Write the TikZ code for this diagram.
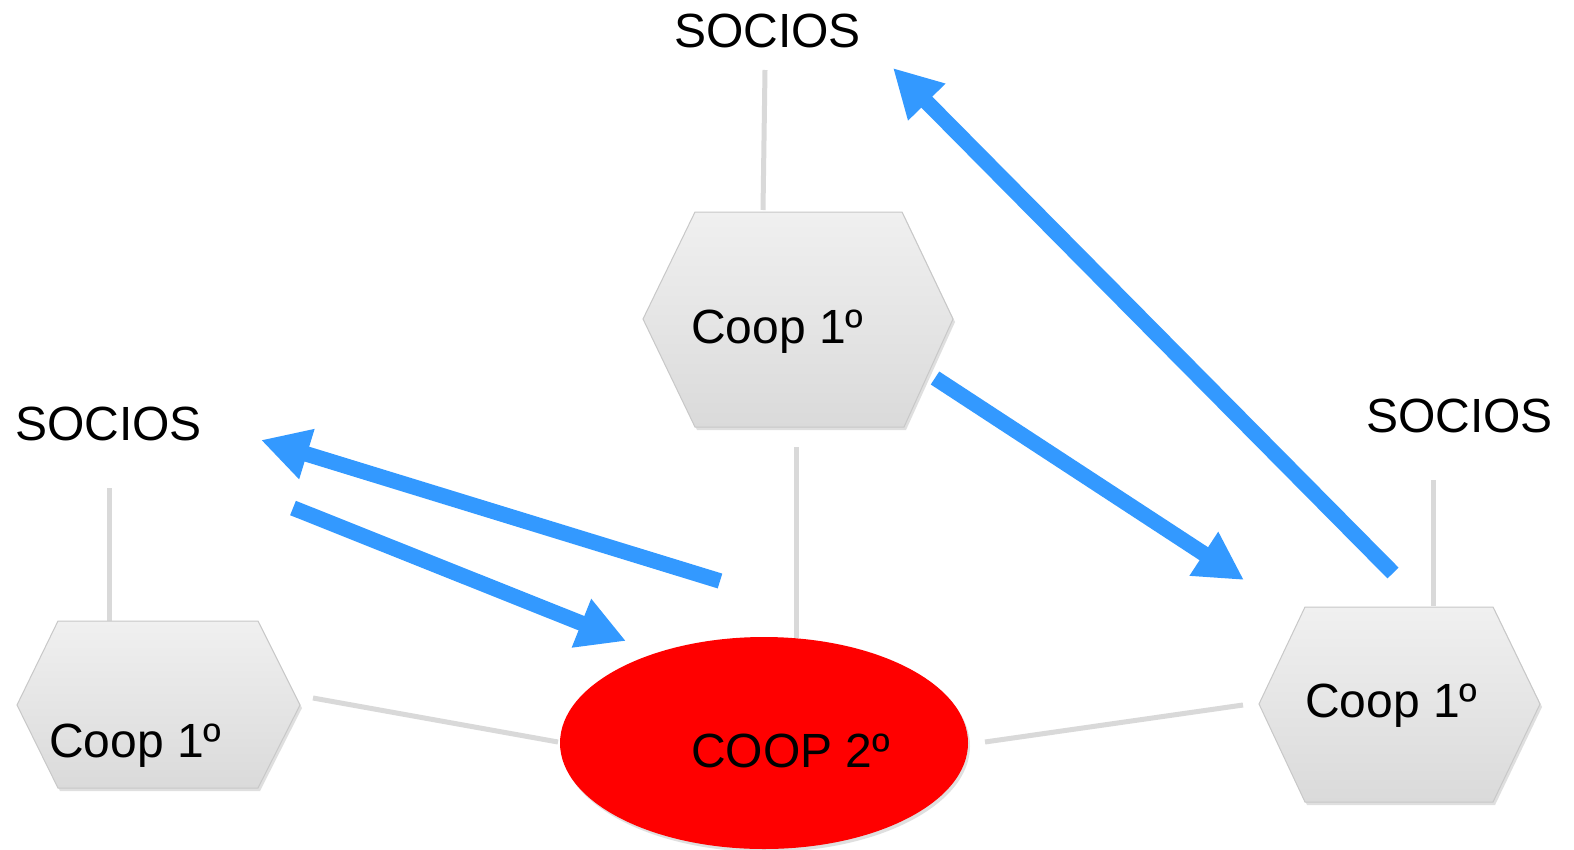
\documentclass[tikz,border=0pt]{standalone}
\usepackage{fontspec}
\setmainfont{Liberation Sans}
\usetikzlibrary{arrows.meta,shadows}
\definecolor{arrowblue}{HTML}{3399FF}
\definecolor{linkgray}{HTML}{D9D9D9}
\definecolor{hexborder}{HTML}{C8C8C8}
\definecolor{hextop}{HTML}{F0F0F0}
\definecolor{hexbot}{HTML}{DADADA}
\definecolor{coopred}{HTML}{FF0000}
\begin{document}
\begin{tikzpicture}[x=1pt,y=-1pt,
  lbl/.style={anchor=base west,inner sep=0pt,font=\fontsize{48}{56}\selectfont},
  link/.style={draw=linkgray,line width=5pt},
  flow/.style={draw=arrowblue,line width=15.5pt,-{Triangle[length=48pt,width=49pt]}},
  hexa/.style={draw=hexborder,line width=1pt,top color=hextop,bottom color=hexbot,
    drop shadow={opacity=0.25,shadow xshift=2pt,shadow yshift=-3pt}},
]
\useasboundingbox (0,0) rectangle (1574,849);
\fill[white] (0,0) rectangle (1574,849);

% connectors (gray) drawn first
\coordinate (s1) at (765,70);
\coordinate (h1t) at (763,210);
\coordinate (h1b) at (796,447);
\coordinate (c2t) at (796,638);
\coordinate (s2) at (109,488);
\coordinate (h2t) at (109,622);
\coordinate (s3) at (1433,480);
\coordinate (h3t) at (1433,606);
\coordinate (h2r) at (313,698);
\coordinate (c2l) at (558,742);
\coordinate (c2r) at (985,742);
\coordinate (h3l) at (1243,705);

\path[link] (s1) -- (h1t);
\path[link] (h1b) -- (c2t);
\path[link] (s2) -- (h2t);
\path[link] (s3) -- (h3t);
\path[link] (h2r) -- (c2l);
\path[link] (c2r) -- (h3l);

% hexagons
\path[hexa] (695,212) -- (902,212) -- (953,319) -- (904,427) -- (695,427) -- (643,319) -- cycle;
\path[hexa] (58,621) -- (258,621) -- (300,705) -- (258,788) -- (58,788) -- (17,705) -- cycle;
\path[hexa] (1305,607) -- (1493,607) -- (1540,704) -- (1493,802) -- (1305,802) -- (1259,704) -- cycle;

% ellipse
\path[fill=coopred,drop shadow={opacity=0.25,shadow xshift=2pt,shadow yshift=-3pt}]
  (764,743) ellipse [x radius=204,y radius=106];

% texts
\node[lbl] (socA) at (674,47) {SOCIOS};
\node[lbl] (socB) at (15,440) {SOCIOS};
\node[lbl] (socC) at (1366,432) {SOCIOS};
\node[lbl] (coopA) at (691,343) {Coop 1º};
\node[lbl] (coopB) at (49,757) {Coop 1º};
\node[lbl] (coopC) at (1305,717) {Coop 1º};
\node[lbl] (coopD) at (691,767) {COOP 2º};

% blue arrows
\coordinate (a1s) at (720,581);
\coordinate (a1e) at (261,440);
\coordinate (a2s) at (293,508);
\coordinate (a2e) at (626,641);
\coordinate (a3s) at (935,378);
\coordinate (a3e) at (1244,580);
\coordinate (a4s) at (1393,573);
\coordinate (a4e) at (893,68);
\path[flow] (a1s) -- (a1e);
\path[flow] (a2s) -- (a2e);
\path[flow] (a3s) -- (a3e);
\path[flow] (a4s) -- (a4e);
\end{tikzpicture}
\end{document}
